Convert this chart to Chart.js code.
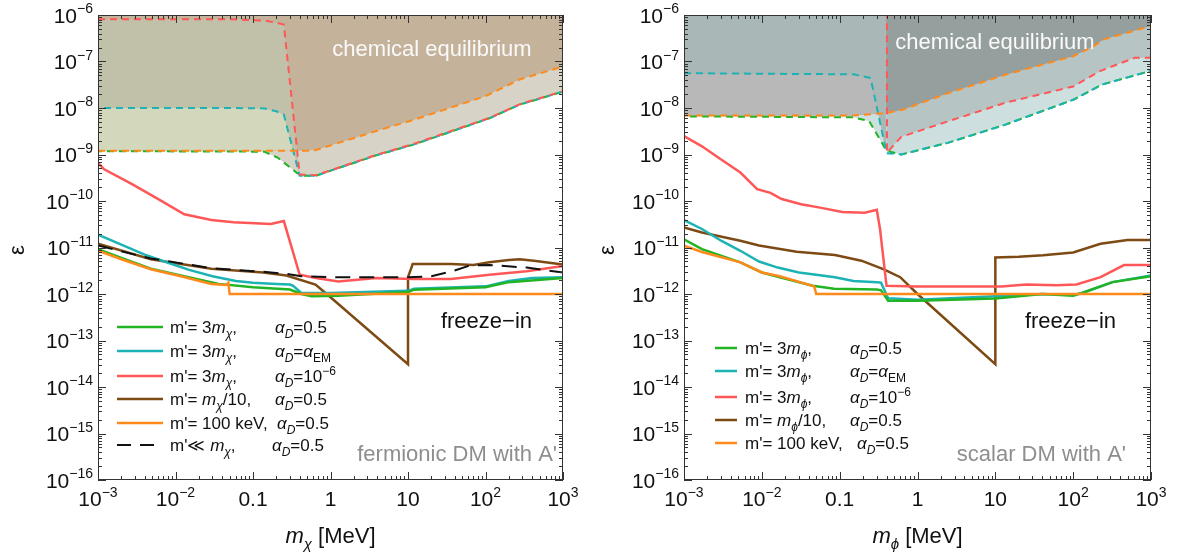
<!DOCTYPE html>
<html>
<head>
<meta charset="utf-8">
<script src="https://cdn.jsdelivr.net/npm/chart.js@4.4.0/dist/chart.umd.min.js"></script>
<style>
  html, body { margin: 0; padding: 0; background: #fff; }
  #wrap { position: relative; width: 1183px; height: 556px; }
  canvas { position: absolute; top: 0; }
  #cL { left: 0; }
  #cR { left: 590px; }
</style>
</head>
<body>
<div id="wrap">
  <canvas id="cL" width="590" height="556"></canvas>
  <canvas id="cR" width="593" height="556"></canvas>
</div>
<script>
// axis ranges / ticks
const xDecades = [-3, -2, -1, 0, 1, 2, 3];
const yDecades = [-16, -15, -14, -13, -12, -11, -10, -9, -8, -7, -6];

// ---------- fermionic DM (left) : [m (MeV), epsilon] ----------
const fermChemRed = [[1e-3,8.1e-7],[0.05,8.1e-7],[0.14,7.6e-7],[0.2,6.8e-7],[0.25,6.2e-7],[0.4,3.7e-10],[0.65,3.6e-10],[1.26,5.2e-10],[3.9,9.8e-10],[12,1.7e-9],[40,3.4e-9],[112,6.1e-9],[275,1.2e-8],[1000,2.3e-8]];
const fermChemCyan = [[1e-3,1e-8],[0.05,1e-8],[0.14,9.8e-9],[0.2,8.5e-9],[0.25,7.2e-9],[0.4,3.5e-10],[0.65,3.5e-10],[1.26,5.1e-10],[3.9,9.6e-10],[12,1.65e-9],[40,3.3e-9],[112,6e-9],[275,1.18e-8],[1000,2.25e-8]];
const fermChemGreen = [[1e-3,1.18e-9],[0.14,1.15e-9],[0.21,8.5e-10],[0.37,4e-10],[0.45,3.5e-10],[0.65,3.5e-10],[1.26,5.1e-10],[3.9,9.6e-10],[12,1.65e-9],[40,3.3e-9],[112,6e-9],[275,1.18e-8],[1000,2.25e-8]];
const fermChemOrange = [[1e-3,1.2e-9],[0.52,1.2e-9],[0.65,1.25e-9],[3.9,3.2e-9],[12,5.6e-9],[100,1.8e-8],[275,4.1e-8],[1000,7.8e-8]];

const fermRed = [[1e-3,6.6e-10],[1.2e-3,4.8e-10],[2.75e-3,2.3e-10],[6e-3,1.1e-10],[0.013,5.2e-11],[0.029,3.9e-11],[0.056,3.5e-11],[0.17,3.2e-11],[0.25,3.7e-11],[0.4,2.6e-12],[0.65,2.2e-12],[1.26,1.85e-12],[3.9,2.2e-12],[12,2.1e-12],[36,2.1e-12],[112,2.6e-12],[340,3.1e-12],[1000,4e-12]];
const fermCyan = [[1e-3,1.9e-11],[2e-3,1.15e-11],[4e-3,7e-12],[8e-3,4.7e-12],[0.015,3.3e-12],[0.03,2.4e-12],[0.06,1.9e-12],[0.1,1.75e-12],[0.2,1.65e-12],[0.3,1.6e-12],[0.33,1.5e-12],[0.42,1.05e-12],[1,1.05e-12],[10,1.17e-12],[12,1.3e-12],[100,1.46e-12],[200,1.9e-12],[400,2.2e-12],[1000,2.3e-12]];
const fermGreen = [[1e-3,9.2e-12],[2e-3,6e-12],[4.8e-3,3.5e-12],[0.0117,2.5e-12],[0.036,1.65e-12],[0.1,1.4e-12],[0.3,1.25e-12],[0.42,1e-12],[0.57,8.9e-13],[1.25,9.2e-13],[10,1.1e-12],[12,1.24e-12],[100,1.4e-12],[200,1.8e-12],[1000,2.2e-12]];
const fermOrange = [[1e-3,8.5e-12],[2e-3,5.6e-12],[4.8e-3,3.4e-12],[0.0117,2.4e-12],[0.029,1.64e-12],[0.045,1.56e-12],[0.048,1.75e-12],[0.05,1e-12],[1000,1e-12]];
const fermBrown = [[1e-3,1.2e-11],[4.8e-3,5.6e-12],[0.029,3.5e-12],[0.135,2.9e-12],[0.27,2.5e-12],[0.64,1.6e-12],[1,8.5e-13],[10,3.1e-14],[10,2.3e-12],[11.5,4.4e-12],[36,4.4e-12],[70,4.2e-12],[112,4.8e-12],[200,5.4e-12],[275,5.6e-12],[420,5.2e-12],[1000,4.3e-12]];
const fermBlack = [[1e-3,1.1e-11],[4.8e-3,5.8e-12],[0.029,3.6e-12],[0.135,3e-12],[0.27,2.7e-12],[0.42,2.4e-12],[1,2.3e-12],[10,2.3e-12],[20,2.4e-12],[40,3.2e-12],[63,4.1e-12],[112,4.2e-12],[340,3.7e-12],[1000,2.9e-12]];

// ---------- scalar DM (right) ----------
const scalChemRed = [[0.405,1.2e-6],[0.405,1.1e-9],[0.62,2.4e-9],[2.5,5.2e-9],[13.5,1.3e-8],[100,2.9e-8],[225,6.3e-8],[615,1.2e-7],[1000,1.2e-7]];
const scalChemCyan = [[1e-3,5.6e-8],[0.15,5.3e-8],[0.25,4.4e-8],[0.4,1.07e-9],[0.62,1e-9],[2.5,1.8e-9],[13.5,4.4e-9],[100,1.5e-8],[236,3.2e-8],[1000,6.3e-8]];
const scalChemGreen = [[1e-3,6.6e-9],[0.15,6.3e-9],[0.24,5.2e-9],[0.4,1.2e-9],[0.62,1e-9],[2.5,1.8e-9],[13.5,4.4e-9],[100,1.5e-8],[236,3.2e-8],[1000,6.3e-8]];
const scalChemOrange = [[1e-3,6.9e-9],[0.15,6.9e-9],[0.4,7.8e-9],[0.65,9.2e-9],[2.5,2.1e-8],[13.5,5.2e-8],[100,1.3e-7],[180,2.1e-7],[250,3e-7],[1000,5.8e-7]];

const scalRed = [[1e-3,2.5e-9],[1.7e-3,1.5e-9],[3e-3,7.8e-10],[5.3e-3,4.1e-10],[8.7e-3,1.8e-10],[0.0129,1.5e-10],[0.018,1.1e-10],[0.032,8.5e-11],[0.056,7.2e-11],[0.108,5.8e-11],[0.21,5.6e-11],[0.3,6.5e-11],[0.33,2.5e-11],[0.4,1.5e-12],[1,1.45e-12],[12,1.45e-12],[25,1.6e-12],[60,1.55e-12],[110,1.6e-12],[225,2.3e-12],[450,4.2e-12],[1000,4.2e-12]];
const scalCyan = [[1e-3,3.9e-11],[1.7e-3,2.5e-11],[3e-3,1.4e-11],[5.3e-3,8.5e-12],[9.2e-3,5e-12],[0.016,3.7e-12],[0.03,2.9e-12],[0.087,2.3e-12],[0.15,1.9e-12],[0.3,1.8e-12],[0.34,1.75e-12],[0.42,8.1e-13],[1,7.5e-13],[10,8.9e-13],[40,1e-12],[100,9.5e-13],[130,1.05e-12],[320,1.8e-12],[1000,2.5e-12]];
const scalGreen = [[1e-3,1.5e-11],[1.7e-3,9.2e-12],[5.3e-3,4.8e-12],[0.01,2.9e-12],[0.017,2.3e-12],[0.045,1.5e-12],[0.085,1.3e-12],[0.3,1.25e-12],[0.34,1.2e-12],[0.42,7.2e-13],[1,7.2e-13],[10,8e-13],[40,1e-12],[100,9.2e-13],[130,1.05e-12],[320,1.8e-12],[1000,2.4e-12]];
const scalOrange = [[1e-3,1.1e-11],[1.7e-3,8e-12],[5.3e-3,4.8e-12],[0.01,2.9e-12],[0.017,2.4e-12],[0.045,1.5e-12],[0.047,1.45e-12],[0.05,1e-12],[1000,1e-12]];
const scalBrown = [[1e-3,2.7e-11],[1.7e-3,2.1e-11],[5.3e-3,1.4e-11],[9.2e-3,1.1e-11],[0.028,8.1e-12],[0.087,6.9e-12],[0.19,5.2e-12],[0.37,3.4e-12],[0.6,2.3e-12],[1,1e-12],[10,3.1e-14],[10,6.1e-12],[20,6.3e-12],[41,6.8e-12],[100,7.8e-12],[225,1.2e-11],[500,1.45e-11],[1000,1.45e-11]];

// colours
const GREEN = '#22b422', CYAN = '#1bb3b3', RED = '#ff5757', BROWN = '#7d4a14', ORANGE = '#ff8a1c';
const FONT = '"Liberation Sans", Arial, sans-serif';

function pts(arr) { return arr.map(p => ({ x: p[0], y: p[1] })); }

function line(data, color, width, dash, offset) {
  return { data: pts(data), borderColor: color, borderWidth: width, borderDash: dash || [],
    borderDashOffset: offset || 0, pointRadius: 0, fill: false, tension: 0 };
}
function area(data, fill, color) {
  return { data: pts(data), borderWidth: 0, borderColor: 'rgba(0,0,0,0)', backgroundColor: color,
    pointRadius: 0, fill: fill, tension: 0 };
}

// rich text pieces
const T = t => ({ t });
const I = t => ({ t, it: true });
const Sb = (t, it) => ({ t, sub: true, it: !!it });
const Sp = t => ({ t, sup: true });

function drawRich(ctx, parts, x, y, size, align, color) {
  let w = 0;
  const items = parts.map(p => {
    const s = (p.sub || p.sup) ? Math.round(size * 0.68) : size;
    const font = (p.it ? 'italic ' : '') + s + 'px ' + FONT;
    ctx.font = font;
    const pw = ctx.measureText(p.t).width;
    w += pw;
    return { p, font, pw, dy: p.sub ? size * 0.28 : p.sup ? -size * 0.43 : 0 };
  });
  let cx = align === 'center' ? x - w / 2 : align === 'right' ? x - w : x;
  ctx.fillStyle = color;
  ctx.textAlign = 'left';
  ctx.textBaseline = 'alphabetic';
  items.forEach(it => { ctx.font = it.font; ctx.fillText(it.p.t, cx, y + it.dy); cx += it.pw; });
}

function makeDeco(cfg) {
  return {
    id: 'deco',
    afterDatasetsDraw(chart) {
      const ctx = chart.ctx, a = chart.chartArea;
      const xs = chart.scales.x, ys = chart.scales.y;
      ctx.save();
      // frame
      ctx.strokeStyle = '#333';
      ctx.lineWidth = 1;
      ctx.setLineDash([]);
      ctx.strokeRect(a.left + 0.5, a.top + 0.5, a.right - a.left - 1, a.bottom - a.top - 1);
      // ticks
      ctx.beginPath();
      xDecades.forEach(d => {
        const px = Math.round(xs.getPixelForValue(Math.pow(10, d))) + 0.5;
        ctx.moveTo(px, a.bottom); ctx.lineTo(px, a.bottom - 8);
        ctx.moveTo(px, a.top); ctx.lineTo(px, a.top + 8);
        if (d < 3) for (let m = 2; m < 10; m++) {
          const q = Math.round(xs.getPixelForValue(m * Math.pow(10, d))) + 0.5;
          ctx.moveTo(q, a.bottom); ctx.lineTo(q, a.bottom - 4);
          ctx.moveTo(q, a.top); ctx.lineTo(q, a.top + 4);
        }
      });
      yDecades.forEach(d => {
        const py = Math.round(ys.getPixelForValue(Math.pow(10, d))) + 0.5;
        ctx.moveTo(a.left, py); ctx.lineTo(a.left + 8, py);
        ctx.moveTo(a.right, py); ctx.lineTo(a.right - 8, py);
        if (d < -6) for (let m = 2; m < 10; m++) {
          const q = Math.round(ys.getPixelForValue(m * Math.pow(10, d))) + 0.5;
          ctx.moveTo(a.left, q); ctx.lineTo(a.left + 4, q);
          ctx.moveTo(a.right, q); ctx.lineTo(a.right - 4, q);
        }
      });
      ctx.stroke();
      // tick labels
      xDecades.forEach(d => {
        const px = xs.getPixelForValue(Math.pow(10, d));
        let parts;
        if (d === -1) parts = [T('0.1')];
        else if (d === 0) parts = [T('1')];
        else if (d === 1) parts = [T('10')];
        else parts = [T('10'), Sp(d < 0 ? '\u2212' + (-d) : String(d))];
        drawRich(ctx, parts, px, a.bottom + 26, 21, 'center', '#111');
      });
      yDecades.forEach(d => {
        const py = ys.getPixelForValue(Math.pow(10, d));
        drawRich(ctx, [T('10'), Sp('\u2212' + (-d))], a.left - 5, py + 7.5, 21, 'right', '#111');
      });
      // axis titles
      drawRich(ctx, cfg.xTitle, (a.left + a.right) / 2, 543, 22, 'center', '#111');
      ctx.save();
      ctx.translate(cfg.yTitleX, 250);
      ctx.rotate(-Math.PI / 2);
      drawRich(ctx, [T('\u03b5')], 0, 7, 22, 'center', '#111');
      ctx.restore();
      // annotations
      cfg.texts.forEach(t => drawRich(ctx, [T(t.text)], t.x, t.y + 8, 22, t.align, t.color));
      // legend
      cfg.legend.forEach(r => {
        ctx.beginPath();
        ctx.strokeStyle = r.color;
        ctx.lineWidth = r.dash ? 2 : 2.5;
        ctx.setLineDash(r.dash || []);
        ctx.moveTo(cfg.legX1, r.y); ctx.lineTo(cfg.legX2, r.y);
        ctx.stroke();
        ctx.setLineDash([]);
        drawRich(ctx, r.left, cfg.legText, r.y + 6, 17, 'left', '#111');
        drawRich(ctx, r.right, r.ax || cfg.legAlpha, r.y + 6, 17, 'left', '#111');
      });
      ctx.restore();
    }
  };
}

function options(yW, padR) {
  return {
    responsive: false, animation: false, events: [],
    layout: { padding: { left: 0, right: padR, top: 15, bottom: 0 } },
    plugins: { legend: { display: false }, tooltip: { enabled: false },
      filler: { drawTime: 'beforeDatasetsDraw', propagate: false } },
    scales: {
      x: { type: 'logarithmic', min: 1e-3, max: 1e3, ticks: { display: false },
        grid: { display: false }, border: { display: false }, afterFit: s => { s.height = 76; } },
      y: { type: 'logarithmic', min: 1e-16, max: 1e-6, ticks: { display: false },
        grid: { display: false }, border: { display: false }, afterFit: s => { s.width = yW; } }
    }
  };
}

const aD = [I('\u03b1'), Sb('D', true)];
const DASH = [7, 5];

// ---------- left chart ----------
const mchi = [I('m'), Sb('\u03c7', true)];
new Chart(document.getElementById('cL'), {
  type: 'line',
  data: {
    datasets: [
      line(fermBlack, '#111', 2, [15, 9]),
      line(fermOrange, ORANGE, 2.5),
      line(fermGreen, GREEN, 2.5),
      line(fermCyan, CYAN, 2.5),
      line(fermRed, RED, 2.5),
      line(fermBrown, BROWN, 2.5),
      line(fermChemOrange, ORANGE, 2, DASH),
      line(fermChemRed, RED, 2, DASH),
      line(fermChemCyan, CYAN, 2, DASH, 6),
      line(fermChemGreen, GREEN, 2, DASH, 3),
      area(fermChemRed, { target: 11, above: '#c1c1a9', below: 'rgba(0,0,0,0)' }),
      area(fermChemCyan, { target: 12, above: '#d3d7bb', below: 'rgba(0,0,0,0)' }),
      area(fermChemOrange, 'end', '#c4b29b'),
      area(fermChemGreen, 'end', '#d7d3c6')
    ]
  },
  options: options(98, 27),
  plugins: [makeDeco({
    xTitle: [I('m'), Sb('\u03c7', true), T(' [MeV]')],
    yTitleX: 17,
    texts: [
      { text: 'chemical equilibrium', x: 432, y: 48, align: 'center', color: '#fafafa' },
      { text: 'freeze\u2212in', x: 532, y: 320, align: 'right', color: '#111' },
      { text: "fermionic DM with A'", x: 557, y: 453, align: 'right', color: '#8e8e8e' }
    ],
    legX1: 117, legX2: 163, legText: 170, legAlpha: 275,
    legend: [
      { color: GREEN, y: 327, left: [T("m'= 3"), ...mchi, T(',')], right: [...aD, T('=0.5')] },
      { color: CYAN, y: 351, left: [T("m'= 3"), ...mchi, T(',')], right: [...aD, T('='), I('\u03b1'), Sb('EM')] },
      { color: RED, y: 376, left: [T("m'= 3"), ...mchi, T(',')], right: [...aD, T('=10'), Sp('\u22126')] },
      { color: BROWN, y: 399, left: [T("m'= "), ...mchi, T('/10,')], right: [...aD, T('=0.5')] },
      { color: ORANGE, y: 423, left: [T("m'= 100 keV,")], right: [...aD, T('=0.5')], ax: 277 },
      { color: '#111', dash: [14, 9], y: 445, left: [T("m'\u226a "), ...mchi, T(',')], right: [...aD, T('=0.5')], ax: 272 }
    ]
  })]
});

// ---------- right chart ----------
const mphi = [I('m'), Sb('\u03d5', true)];
new Chart(document.getElementById('cR'), {
  type: 'line',
  data: {
    datasets: [
      line(scalOrange, ORANGE, 2.5),
      line(scalGreen, GREEN, 2.5),
      line(scalCyan, CYAN, 2.5),
      line(scalRed, RED, 2.5),
      line(scalBrown, BROWN, 2.5),
      line(scalChemOrange, ORANGE, 2, DASH),
      line(scalChemRed, RED, 2, DASH),
      line(scalChemCyan, CYAN, 2, DASH),
      line(scalChemGreen, GREEN, 2, DASH, 6),
      area(scalChemCyan, { target: 11, above: '#b8b8b8', below: 'rgba(0,0,0,0)' }),
      area(scalChemCyan.filter(p => p[0] <= 0.4), 'end', '#a9b8b7'),
      area(scalChemOrange, 'end', '#959f9d'),
      area(scalChemRed, 'end', '#b6c5c4'),
      area(scalChemGreen, 'end', '#cde0df')
    ]
  },
  options: options(94, 32),
  plugins: [makeDeco({
    xTitle: [I('m'), Sb('\u03d5', true), T(' [MeV]')],
    yTitleX: 17,
    texts: [
      { text: 'chemical equilibrium', x: 405, y: 41, align: 'center', color: '#fafafa' },
      { text: 'freeze\u2212in', x: 526, y: 320, align: 'right', color: '#111' },
      { text: "scalar DM with A'", x: 536, y: 453, align: 'right', color: '#8e8e8e' }
    ],
    legX1: 125, legX2: 147, legText: 155, legAlpha: 260,
    legend: [
      { color: GREEN, y: 348, left: [T("m'= 3"), ...mphi, T(',')], right: [...aD, T('=0.5')] },
      { color: CYAN, y: 371, left: [T("m'= 3"), ...mphi, T(',')], right: [...aD, T('='), I('\u03b1'), Sb('EM')] },
      { color: RED, y: 397, left: [T("m'= 3"), ...mphi, T(',')], right: [...aD, T('=10'), Sp('\u22126')] },
      { color: BROWN, y: 420, left: [T("m'= "), ...mphi, T('/10,')], right: [...aD, T('=0.5')] },
      { color: ORANGE, y: 443, left: [T("m'= 100 keV,")], right: [...aD, T('=0.5')], ax: 267 }
    ]
  })]
});
</script>
</body>
</html>
